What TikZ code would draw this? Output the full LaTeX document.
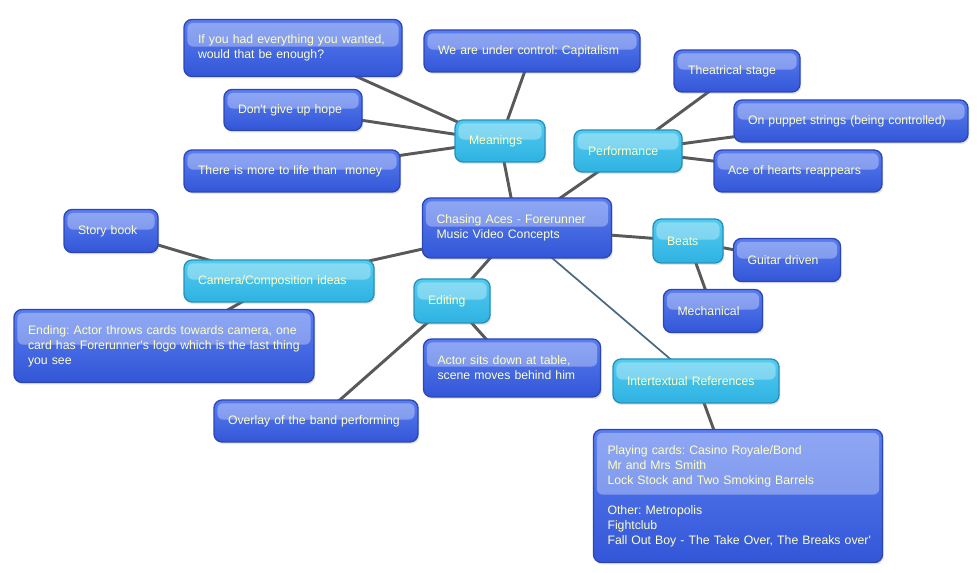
\documentclass[tikz,border=0pt]{standalone}
\usepackage{fontspec}
\setmainfont{Liberation Sans}
\usetikzlibrary{shadows,backgrounds}
\frenchspacing

\definecolor{ideatop}{HTML}{5A7EF0}
\definecolor{ideabot}{HTML}{3356D8}
\definecolor{idealine}{HTML}{2B46B5}
\definecolor{branchtop}{HTML}{52CCF0}
\definecolor{branchbot}{HTML}{2FB2E2}
\definecolor{branchline}{HTML}{2790B8}
\definecolor{ideatext}{HTML}{FFFFC4}
\definecolor{linkgray}{HTML}{595959}
\definecolor{linkslate}{HTML}{4A6A82}

\tikzset{
	bubble/.style={rounded corners=6pt, draw, line width=1pt, align=left,
		inner xsep=10.5pt, inner ysep=2pt, text=ideatext,
		font=\fontsize{9.2}{11.25}\selectfont,
		drop shadow={opacity=0.2, shadow xshift=1pt, shadow yshift=-1.5pt},
		path picture={\fill[white, opacity=0.32, rounded corners=4.5pt]
			([xshift=2.5pt,yshift=-2.5pt]path picture bounding box.north west) rectangle
			([xshift=-2.5pt,yshift=1pt]path picture bounding box.east);}},
	idea/.style={bubble, top color=ideatop, bottom color=ideabot, draw=idealine},
	branch/.style={bubble, top color=branchtop, bottom color=branchbot, draw=branchline},
	size/.code 2 args={%
		\pgfmathsetlengthmacro\bubblewd{(#1-28)*0.75pt}%
		\pgfmathsetlengthmacro\bubbleht{#2*0.75pt}%
		\edef\bubbleset{\noexpand\tikzset{text width=\bubblewd, minimum height=\bubbleht}}%
		\bubbleset},
	link/.style={linkgray, line width=2.2pt},
}

\begin{document}
\begin{tikzpicture}[x=0.75pt,y=-0.75pt]
	\useasboundingbox (0,0) rectangle (979,573);

	% centre
	\node[idea, size={189}{60}] (root) at (517,228) {Chasing Aces - Forerunner\\Music Video Concepts};

	% meanings
	\node[branch, size={90}{42}] (meanings) at (500,141) {Meanings};
	\node[idea, size={218}{57}] (dream) at (293,48) {If you had everything you wanted,\\would that be enough?};
	\node[idea, size={216}{42}] (control) at (532,51) {We are under control: Capitalism};
	\node[idea, size={138}{41}] (hope) at (293,110) {Don\textquotesingle t give up hope};
	\node[idea, size={216}{42}] (money) at (292,171) {There is more to life than\ \ money};

	% performance
	\node[branch, size={108}{42}] (perform) at (628,151) {Performance};
	\node[idea, size={126}{42}] (stage) at (737,71) {Theatrical stage};
	\node[idea, size={234}{42}] (puppet) at (851,121) {\mbox{On puppet strings (being controlled)}};
	\node[idea, size={168}{42}] (ace) at (798,171) {Ace of hearts reappears};

	% beats
	\node[branch, size={70}{44}] (beats) at (688,241) {Beats};
	\node[idea, size={107}{43}] (guitar) at (787,260) {Guitar driven};
	\node[idea, size={99}{43}] (mech) at (713,311) {Mechanical};

	% camera
	\node[branch, size={190}{42}] (camera) at (279,281) {Camera/Composition ideas};
	\node[idea, size={94}{43}] (story) at (111,231) {Story book};
	\node[idea, size={300}{73}] (ending) at (164,346) {\mbox{Ending: Actor throws cards towards camera, one}\\\mbox{card has Forerunner\textquotesingle s logo which is the last thing}\\you see};

	% editing
	\node[branch, size={76}{44}] (editing) at (452,301) {Editing};
	\node[idea, size={177}{58}] (actor) at (512,368) {Actor sits down at table,\\scene moves behind him};
	\node[idea, size={204}{42}] (overlay) at (316,421) {Overlay of the band performing};

	% references
	\node[idea, size={289}{133}] (films) at (738,496) {Playing cards: Casino Royale/Bond\\Mr and Mrs Smith\\Lock Stock and Two Smoking Barrels\\[11.25pt]Other: Metropolis\\Fightclub\\\mbox{Fall Out Boy - The Take Over, The Breaks over\textquotesingle}};
	\node[branch, size={166}{44}] (intertext) at (696,381) {Intertextual References};

	\begin{scope}[on background layer]
		\foreach \a/\b in {root/meanings, root/perform, root/beats, root/camera, root/editing,
				meanings/dream, meanings/control, meanings/hope, meanings/money,
				perform/stage, perform/puppet, perform/ace,
				beats/guitar, beats/mech, camera/story, camera/ending,
				editing/actor, editing/overlay, intertext/films}
			\draw[link] (\a.center) -- (\b.center);
		\draw[link, linkslate, line width=1.3pt] (root.center) -- (intertext.center);
	\end{scope}
\end{tikzpicture}
\end{document}
